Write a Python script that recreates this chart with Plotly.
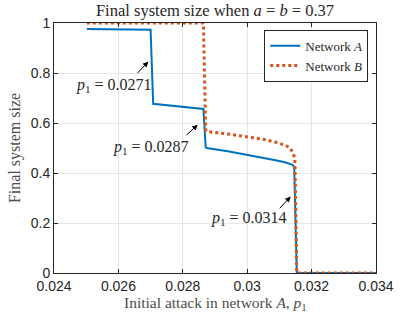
import plotly.graph_objects as go

# Network A
xa = [0.02502, 0.02700, 0.02708, 0.02864, 0.02871, 0.02874, 0.02940, 0.02998, 0.03050, 0.03092, 0.03120, 0.03141, 0.03146, 0.03154, 0.03400]
ya = [0.976, 0.973, 0.677, 0.656, 0.504, 0.500, 0.487, 0.473, 0.462, 0.450, 0.442, 0.433, 0.425, 0.0, 0.0]

# Network B
xb = [0.02502, 0.02864, 0.02871, 0.02874, 0.02940, 0.02998, 0.03050, 0.03092, 0.03120, 0.03133, 0.03143, 0.03148, 0.03154, 0.03400]
yb = [1.0, 1.0, 0.573, 0.566, 0.556, 0.546, 0.535, 0.522, 0.510, 0.500, 0.480, 0.455, 0.0, 0.0]

xticks = [0.024, 0.026, 0.028, 0.03, 0.032, 0.034]
xticklabels = ["0.024", "0.026", "0.028", "0.03", "0.032", "0.034"]
yticks = [0, 0.2, 0.4, 0.6, 0.8, 1]
yticklabels = ["0", "0.2", "0.4", "0.6", "0.8", "1"]

# annotations: (head x, head y, tail x, tail y, label x, label y, label)
arrows = [
    (0.026929, 0.846, 0.026547, 0.793, 0.025854, 0.750, "0.0271"),
    (0.028463, 0.593, 0.028068, 0.546, 0.026997, 0.502, "0.0287"),
    (0.031351, 0.306, 0.030966, 0.253, 0.030050, 0.217, "0.0314"),
]

serif = "Liberation Serif"
sans = "Liberation Sans"

fig = go.Figure()
fig.add_trace(go.Scatter(x=xa, y=ya, mode="lines", name="Network <i>A</i>",
                         line=dict(color="#0072BD", width=2)))
fig.add_trace(go.Scatter(x=xb, y=yb, mode="lines", name="Network <i>B</i>",
                         line=dict(color="#D95319", width=3, dash="dot")))

anns = []
for hx, hy, tx, ty, lx, ly, lab in arrows:
    anns.append(dict(x=hx, y=hy, ax=tx, ay=ty, xref="x", yref="y", axref="x", ayref="y",
                     text="", showarrow=True, arrowhead=2, arrowsize=1.1, arrowwidth=1,
                     arrowcolor="black"))
    anns.append(dict(x=lx, y=ly, xref="x", yref="y", showarrow=False,
                     text="<i>p</i><sub>1</sub> = " + lab,
                     font=dict(family=serif, size=16, color="#262626")))

# axis titles
anns.append(dict(x=0.5, y=-0.122, xref="paper", yref="paper", xanchor="center", yanchor="middle",
                 showarrow=False, text="Initial attack in network <i>A</i>, <i>p</i><sub>1</sub>",
                 font=dict(family=serif, size=15.5, color="#4d4d4d")))
anns.append(dict(x=-0.121, y=0.5, xref="paper", yref="paper", xanchor="center", yanchor="middle",
                 showarrow=False, text="Final system size", textangle=-90,
                 font=dict(family=serif, size=16, color="#4d4d4d")))

axis_common = dict(showline=True, linecolor="#262626", linewidth=1, mirror="ticks",
                   ticks="inside", ticklen=4, tickcolor="#262626",
                   showgrid=True, gridcolor="#e6e6e6", gridwidth=1, zeroline=False,
                   tickfont=dict(family=sans, size=14, color="#262626"))

fig.update_layout(
    width=415, height=312,
    margin=dict(l=54, r=39, t=23, b=39, autoexpand=False),
    paper_bgcolor="white", plot_bgcolor="white",
    title=dict(text="Final system size when <i>a</i> = <i>b</i> = 0.37",
               x=0.5, xanchor="center", xref="paper", y=1 - 10 / 312, yref="container", yanchor="middle",
               font=dict(family=serif, size=16.5, color="#262626")),
    xaxis=dict(range=[0.024, 0.034], tickvals=xticks, ticktext=xticklabels, **axis_common),
    yaxis=dict(range=[0, 1], tickvals=yticks, ticktext=yticklabels, **axis_common),
    legend=dict(x=0.976, y=0.973, xanchor="right", yanchor="top",
                bgcolor="white", bordercolor="#262626", borderwidth=1,
                font=dict(family=serif, size=13, color="#262626"),
                tracegroupgap=0, itemwidth=30),
    annotations=anns,
    showlegend=True,
)

# remove the browser's default 8px body margin so the figure fills the window exactly
fig.write_html("out.html", config={"displayModeBar": False},
               post_script="document.body.style.margin='0px';")
